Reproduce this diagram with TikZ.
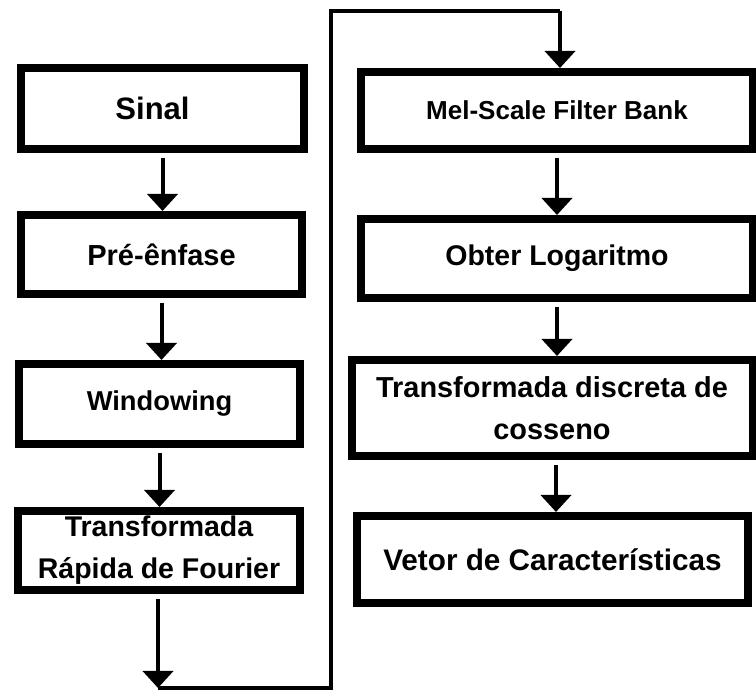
\documentclass[tikz,border=0pt]{standalone}
\usepackage{fontspec}
\setmainfont{Liberation Sans}
\usetikzlibrary{arrows.meta}
\begin{document}
\begin{tikzpicture}[x=1pt,y=-1pt,
  box/.style={draw=black, line width=8pt, fill=white, inner sep=0pt,
    font=\bfseries\fontsize{28.5}{42}\selectfont, align=center},
  fs/.style={font=\bfseries\fontsize{#1}{42}\selectfont},
  arr/.style={line width=4pt, -{Triangle[width=30pt,length=17pt]}, shorten <=5pt},
  wire/.style={line width=3.5pt, line join=miter}]
\useasboundingbox (0,0) rectangle (756,692);
\fill[white] (0,0) rectangle (756,692);

% left column
\node[box, fs=31, minimum width=283pt, minimum height=81pt] (sinal) at (162.5,108.5) {Sinal\kern20pt};
\node[box, fs=29, minimum width=281pt, minimum height=79pt] (pre) at (161.5,254.5) {Pré-ênfase};
\node[box, fs=27.3, minimum width=281pt, minimum height=80pt] (win) at (159.5,404) {Windowing};
\node[box, minimum width=282pt, minimum height=79pt] (fft) at (159,550.5) {Transformada\\Rápida de Fourier};

% right column
\node[box, fs=26, minimum width=392pt, minimum height=77pt] (mel) at (557,110.5) {Mel-Scale Filter Bank};
\node[box, minimum width=392pt, minimum height=79pt] (log) at (557,258.5) {Obter Logaritmo};
\node[box, fs=28.9, minimum width=401pt, minimum height=96pt] (dct) at (552,408) {Transformada discreta de\\cosseno};
\node[box, fs=29.7, minimum width=391pt, minimum height=87pt] (vet) at (552.5,559.5) {Vetor de Características};

% arrows inside each column
\draw[arr] (sinal) -- (sinal |- pre.north);
\draw[arr] (pre) -- (pre |- win.north);
\draw[arr] (win) -- (win |- fft.north);
\draw[arr] (mel) -- (mel |- log.north);
\draw[arr] (log) -- (log |- dct.north);
\coordinate (dctout) at ([xshift=4pt]dct.south);
\draw[arr] (dctout) -- (dctout |- vet.north);

% link from the bottom of the left column to the top of the right one
\coordinate (lb) at (158,688);
\coordinate (lr) at (331,688);
\coordinate (tr) at (331,11);
\coordinate (tl) at (560,11);
\draw[arr] (fft.south -| lb) -- (lb);
\draw[wire] (lb) -- (lr) -- (tr) -- (tl);
\draw[arr, shorten <=0pt] (tl) -- (tl |- mel.north);
\end{tikzpicture}
\end{document}
